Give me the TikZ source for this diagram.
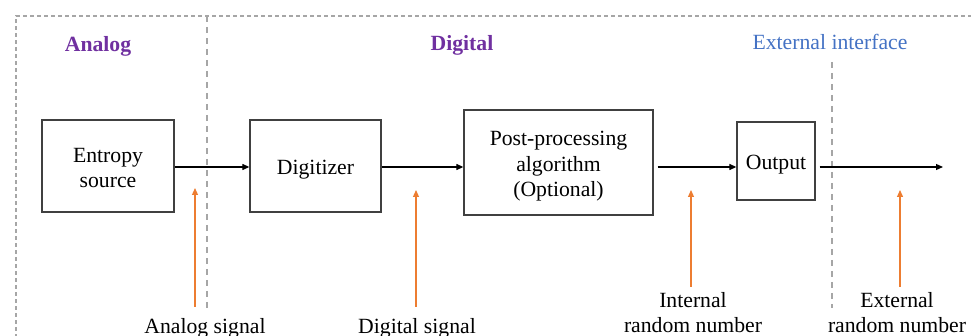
\documentclass[tikz,border=0pt]{standalone}
\usepackage{fontspec}
\setmainfont{Liberation Serif}
\usetikzlibrary{arrows.meta}
\definecolor{purp}{HTML}{7030A0}
\definecolor{bluet}{HTML}{4472C4}
\definecolor{orng}{HTML}{ED7D31}
\definecolor{dgray}{HTML}{A6A6A6}
\definecolor{boxc}{HTML}{404040}
\newcommand{\blocktext}[1]{\begin{tabular}{@{}c@{}}#1\end{tabular}}
\tikzset{
  txt/.style={font=\fontsize{21.7}{25.5}\selectfont, align=center, inner sep=0pt},
  blk/.style={draw=boxc, line width=1.3pt, inner sep=0pt, font=\fontsize{21.7}{25.5}\selectfont, text height=17.8pt, text depth=0pt},
  sep/.style={draw=dgray, line width=1.2pt, dash pattern=on 6pt off 5pt},
  flow/.style={draw=black, line width=1.2pt, -{Triangle[length=7pt,width=6pt]}},
  sig/.style={draw=orng, line width=1.2pt, -{Triangle[length=7pt,width=6pt]}},
  head/.style={font=\fontsize{21.7}{25.5}\selectfont, inner sep=0pt},
  bhead/.style={font=\fontsize{21.7}{25.5}\selectfont\bfseries, inner sep=0pt, text=purp}
}
\begin{document}
\begin{tikzpicture}[x=1pt,y=-1pt]
\useasboundingbox (0,0) rectangle (971,336);
\clip (0,0) rectangle (971,336);
% frame and separators
\coordinate (fbl) at (16,345);
\coordinate (ftl) at (16,16);
\coordinate (ftr) at (980,16);
\draw[sep, dash pattern=on 4pt off 3pt] (fbl) -- (ftl) -- (ftr);
\coordinate (s1t) at (207,16);
\coordinate (s1b) at (207,308);
\draw[sep] (s1t) -- (s1b);
\coordinate (s2t) at (832,62);
\coordinate (s2b) at (832,308);
\draw[sep] (s2t) -- (s2b);
% headings
\node[bhead] (hA) at (98,46) {Analog};
\node[bhead] (hD) at (462,45) {Digital};
\node[head, text=bluet] (hE) at (830,42) {External interface};
% blocks
\node[blk, minimum width=132pt, minimum height=92pt] (es) at (108,166) {\blocktext{Entropy\\source}};
\node[blk, minimum width=131pt, minimum height=92pt] (dg) at (315.5,166) {\blocktext{Digitizer}};
\node[blk, minimum width=189pt, minimum height=105pt] (pp) at (558.5,162.5) {\blocktext{Post-processing\\algorithm\\(Optional)}};
\node[blk, minimum width=78pt, minimum height=78pt] (op) at (776,161) {\blocktext{Output}};
\coordinate (end) at (943,167);
% flow arrows
\draw[flow] (es.east |- 0,167) -- (dg.west |- 0,167);
\draw[flow] (dg.east |- 0,167) -- (pp.west |- 0,167);
\draw[flow] ([xshift=4pt]pp.east |- 0,167) -- (op.west |- 0,167);
\draw[flow] ([xshift=4pt]op.east |- 0,167) -- (end);
% labels
\node[txt] (l1) at (205,328) {Analog signal};
\node[txt] (l2) at (417,328) {Digital signal};
\node[txt] (l3) at (693,312.5) {Internal\\random number};
\node[txt] (l4) at (897,312.5) {External\\random number};
% signal arrows
\coordinate (a1b) at (195,307); \coordinate (a1t) at (195,188);
\coordinate (a2b) at (416,307); \coordinate (a2t) at (416,190);
\coordinate (a3b) at (691,287); \coordinate (a3t) at (691,190);
\coordinate (a4b) at (900,287); \coordinate (a4t) at (900,190);
\draw[sig] (a1b) -- (a1t);
\draw[sig] (a2b) -- (a2t);
\draw[sig] (a3b) -- (a3t);
\draw[sig] (a4b) -- (a4t);
\end{tikzpicture}
\end{document}
